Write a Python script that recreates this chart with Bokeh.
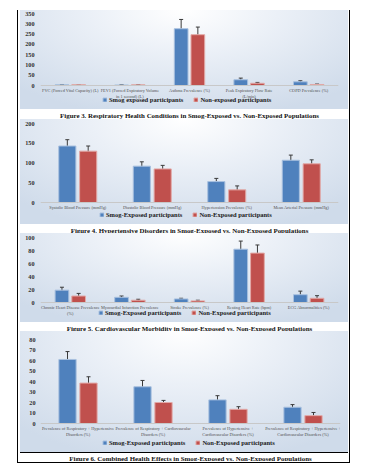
from bokeh.plotting import figure
from bokeh.models import (ColumnDataSource, FactorRange, Whisker, Legend, LegendItem,
                          FixedTicker, Range1d)
from bokeh.layouts import column
from bokeh.transform import dodge
from bokeh.embed import file_html
from bokeh.resources import INLINE

# ---------------- data ----------------
resp_categories = ["FVC (Forced Vital Capacity) (L)",
                   "FEV1 (Forced Expiratory Volume\nin 1 second) (L)",
                   "Asthma Prevalence (%)",
                   "Peak Expiratory Flow Rate\n(L/min)",
                   "COPD Prevalence (%)"]
resp_smog = [3.2, 2.6, 276, 28, 18]
resp_smog_err = [0.6, 0.5, 45, 8, 5]
resp_non = [4.1, 3.3, 247, 11, 5]
resp_non_err = [0.6, 0.5, 37, 4, 2]
resp_ticks = [0, 50, 100, 150, 200, 250, 300, 350]
resp_legend = ["Smog exposed participants", "Non-exposed participants"]
resp_caption = "Figure 3. Respiratory Health Conditions in Smog-Exposed vs. Non-Exposed Populations"

hyp_categories = ["Systolic Blood Pressure (mmHg)", "Diastolic Blood Pressure (mmHg)",
                  "Hypertension Prevalence (%)", "Mean Arterial Pressure (mmHg)"]
hyp_smog = [143, 92, 53, 107]
hyp_smog_err = [16, 11, 8, 13]
hyp_non = [130, 85, 32, 98]
hyp_non_err = [13, 9, 10, 10]
hyp_ticks = [0, 50, 100, 150, 200]
hyp_caption = "Figure 4. Hypertensive Disorders in Smog-Exposed vs. Non-Exposed Populations"

card_categories = ["Chronic Heart Disease Prevalence\n(%)", "Myocardial Infarction Prevalence",
                   "Stroke Prevalence (%)", "Resting Heart Rate (bpm)", "ECG Abnormalities (%)"]
card_smog = [19, 8, 5.5, 82, 12]
card_smog_err = [4.5, 2, 1, 12.5, 5.5]
card_non = [10, 3.5, 2.5, 76, 6.5]
card_non_err = [4, 1.5, 1, 12.5, 4]
card_ticks = [0, 20, 40, 60, 80, 100]
card_caption = "Figure 5. Cardiovascular Morbidity in Smog-Exposed vs. Non-Exposed Populations"

comb_categories = ["Prevalence of Respiratory + Hypertensive\nDisorders (%)",
                   "Prevalence of Respiratory + Cardiovascular\nDisorders (%)",
                   "Prevalence of Hypertensive +\nCardiovascular Disorders (%)",
                   "Prevalence of Respiratory + Hypertensive +\nCardiovascular Disorders (%)"]
comb_smog = [61, 35, 22.5, 15.5]
comb_smog_err = [7.5, 6, 4, 2.5]
comb_non = [38.5, 20, 13.5, 7.5]
comb_non_err = [6, 2, 2.5, 3]
comb_ticks = [0, 10, 20, 30, 40, 50, 60, 70, 80]
comb_caption = "Figure 6. Combined Health Effects in Smog-Exposed vs. Non-Exposed Populations"

new_legend = ["Smog-Exposed participants", "Non-Exposed participants"]

BLUE = "#4f81bd"
RED = "#c0504d"
SERIF = "Liberation Serif"
W = 328
GRAD = "radial-gradient(ellipse 72% 110% at 50% 0%, #ffffff 0%, #ebf0f7 40%, #cfdbea 100%)"


def make_chart(cats, smog, smog_err, non, non_err, ticks, labels, caption,
               pad_top, plot_h, pad_bottom, cap_standoff, legend_x, legend_y,
               left=20, right=10, ylab_standoff=6, bottom_line=False):
    y_end = ticks[-1]
    scale = plot_h / y_end
    frame_h = pad_top + plot_h + pad_bottom
    src = ColumnDataSource(dict(
        cat=cats, smog=smog, non=non,
        s_up=[v + e for v, e in zip(smog, smog_err)],
        s_lo=[v - e for v, e in zip(smog, smog_err)],
        n_up=[v + e for v, e in zip(non, non_err)],
        n_lo=[v - e for v, e in zip(non, non_err)],
    ))
    p = figure(x_range=FactorRange(*cats),
               y_range=Range1d(-pad_bottom / scale, y_end + pad_top / scale),
               frame_width=W - left - right, frame_height=frame_h,
               output_backend="svg", toolbar_location=None,
               min_border_top=0, min_border_bottom=3,
               min_border_left=left, min_border_right=right,
               title=caption, title_location="below")
    bg = f"{GRAD} 0 0 / 100% {frame_h}px no-repeat"
    if bottom_line:
        bg = f"linear-gradient(#000, #000) 0 {frame_h}px / 100% 1px no-repeat, " + bg
    p.styles = {"background": bg}
    p.background_fill_color = None
    p.border_fill_color = None
    p.outline_line_color = None
    p.grid.visible = False

    t = p.title
    t.text_font = SERIF
    t.text_font_style = "bold"
    t.text_font_size = "6.9px"
    t.text_color = "#111111"
    t.align = "center"
    t.standoff = cap_standoff
    t.offset = 0
    t.text_line_height = 1.0

    off = 0.14
    r1 = p.vbar(x=dodge("cat", -off, range=p.x_range), top="smog", bottom=0, width=0.23,
                source=src, fill_color=BLUE, line_color="#a8c0df", line_width=1)
    r2 = p.vbar(x=dodge("cat", off, range=p.x_range), top="non", bottom=0, width=0.23,
                source=src, fill_color=RED, line_color="#e2a9a7", line_width=1)
    for d, up, lo in ((-off, "s_up", "s_lo"), (off, "n_up", "n_lo")):
        w = Whisker(source=src, base=dodge("cat", d, range=p.x_range), upper=up, lower=lo,
                    line_color="#3a3a3a", line_width=1)
        w.upper_head.size = 4
        w.lower_head.size = 4
        w.upper_head.line_color = "#3a3a3a"
        w.lower_head.line_color = "#3a3a3a"
        p.add_layout(w)

    xa = p.xaxis[0]
    xa.fixed_location = 0
    xa.axis_line_color = "#c8c8c8"
    xa.major_tick_line_color = None
    xa.minor_tick_line_color = None
    xa.major_tick_out = 0
    xa.major_tick_in = 0
    xa.major_label_text_font = SERIF
    xa.major_label_text_font_size = "4.3px"
    xa.major_label_text_color = "#505050"
    xa.major_label_standoff = 2

    ya = p.yaxis[0]
    ya.ticker = FixedTicker(ticks=ticks)
    ya.axis_line_color = None
    ya.major_tick_line_color = None
    ya.minor_tick_line_color = None
    ya.major_tick_out = 0
    ya.major_tick_in = 0
    ya.major_label_text_font = SERIF
    ya.major_label_text_font_style = "bold"
    ya.major_label_text_font_size = "6.2px"
    ya.major_label_text_color = "#303030"
    ya.major_label_standoff = ylab_standoff

    legend = Legend(items=[LegendItem(label=labels[0], renderers=[r1]),
                           LegendItem(label=labels[1], renderers=[r2])],
                    orientation="horizontal", location=(legend_x, legend_y),
                    label_text_font=SERIF, label_text_font_style="bold",
                    label_text_font_size="6.5px", label_text_color="#1a1a1a",
                    glyph_width=5, glyph_height=5, label_standoff=2, spacing=10,
                    label_height=7, padding=0, margin=0,
                    border_line_color=None, background_fill_alpha=0)
    p.add_layout(legend)
    return p


p1 = make_chart(resp_categories, resp_smog, resp_smog_err, resp_non, resp_non_err,
                resp_ticks, resp_legend, resp_caption,
                pad_top=3, plot_h=72, pad_bottom=24, cap_standoff=1,
                legend_x=62, legend_y=6)
p2 = make_chart(hyp_categories, hyp_smog, hyp_smog_err, hyp_non, hyp_non_err,
                hyp_ticks, new_legend, hyp_caption,
                pad_top=4, plot_h=79, pad_bottom=22, cap_standoff=0,
                legend_x=59, legend_y=6)
p3 = make_chart(card_categories, card_smog, card_smog_err, card_non, card_non_err,
                card_ticks, new_legend, card_caption,
                pad_top=4, plot_h=65, pad_bottom=20, cap_standoff=0,
                legend_x=58, legend_y=6)
p4 = make_chart(comb_categories, comb_smog, comb_smog_err, comb_non, comb_non_err,
                comb_ticks, new_legend, comb_caption,
                pad_top=8, plot_h=84, pad_bottom=29, cap_standoff=0,
                legend_x=62, legend_y=6, left=17, right=11, ylab_standoff=5,
                bottom_line=True)

page = column(p1, p2, p3, p4, spacing=0, margin=(10, 0, 0, 17),
              styles={"border-left": "1px solid #000", "border-right": "1px solid #000",
                      "border-bottom": "1px solid #000",
                      "padding-left": "2px", "padding-right": "1px", "padding-bottom": "1px"})

open("out.html", "w").write(file_html(page, INLINE))
